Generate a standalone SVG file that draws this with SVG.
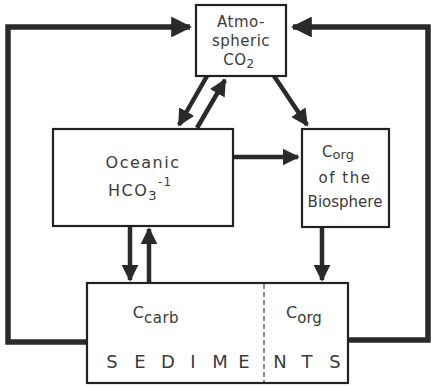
<svg xmlns="http://www.w3.org/2000/svg" width="431" height="386" viewBox="0 0 431 386">
<style>
.box{fill:#fff;stroke:#222;stroke-width:2.2}
.c{fill:none;stroke:#2a2a2a;stroke-width:4.5}
.loop{fill:none;stroke:#2a2a2a;stroke-width:5.5;stroke-linejoin:miter}
.t{font-family:"DejaVu Sans",sans-serif;fill:#3a3a3a;text-anchor:middle;font-size:15px}
.div{stroke:#444;stroke-width:1.2;stroke-dasharray:5,3}
</style>
<defs>
<marker id="ah" viewBox="0 0 10 10" refX="9" refY="5" markerWidth="3.8" markerHeight="3.8" orient="auto" markerUnits="strokeWidth">
<path d="M0,0 L10,5 L0,10 z" fill="#2a2a2a"/>
</marker>
</defs>
<g id="connectors">
<path class="loop" d="M90,342 H8 V27 H190" marker-end="url(#ah)"/>
<path class="loop" d="M346,340 H428 V27 H293" marker-end="url(#ah)"/>
<line class="c" x1="207" y1="76" x2="179" y2="125" marker-end="url(#ah)"/>
<line class="c" x1="197" y1="128" x2="225" y2="80" marker-end="url(#ah)"/>
<line class="c" x1="274" y1="76" x2="307" y2="125" marker-end="url(#ah)"/>
<line class="c" x1="233" y1="157" x2="298" y2="157" marker-end="url(#ah)"/>
<line class="c" x1="130" y1="226" x2="130" y2="280" marker-end="url(#ah)"/>
<line class="c" x1="149" y1="283" x2="149" y2="229" marker-end="url(#ah)"/>
<line class="c" x1="322" y1="227" x2="322" y2="280" marker-end="url(#ah)"/>
</g>
<g id="atmospheric">
<rect class="box" x="196" y="5" width="90" height="71"/>
<text class="t" x="241" y="27" letter-spacing="0.5">Atmo-</text>
<text class="t" x="241" y="46" letter-spacing="0.5">spheric</text>
<text class="t" x="239" y="65" letter-spacing="0.5">CO<tspan font-size="12" dy="3">2</tspan></text>
</g>
<g id="oceanic">
<rect class="box" x="53" y="129" width="180" height="97"/>
<text class="t" x="143" y="168" style="font-size:16px" letter-spacing="1.5">Oceanic</text>
<text class="t" x="140" y="196" style="font-size:16px" letter-spacing="1.5">HCO<tspan font-size="13" dy="4">3</tspan><tspan font-size="12" dy="-14" letter-spacing="1">-1</tspan></text>
</g>
<g id="corg-biosphere">
<rect class="box" x="302" y="129" width="87" height="98"/>
<text class="t" x="338" y="157">C<tspan font-size="13" dy="2">org</tspan></text>
<text class="t" x="345" y="183" letter-spacing="1.5">of the</text>
<text class="t" x="345" y="207">Biosphere</text>
</g>
<g id="sediments">
<rect class="box" x="87" y="283" width="261" height="100"/>
<line class="div" x1="264" y1="284" x2="264" y2="382"/>
<text class="t" x="156" y="318" style="font-size:16px">C<tspan font-size="15" dy="5" letter-spacing="0.5">carb</tspan></text>
<text class="t" x="304" y="318" style="font-size:16px">C<tspan font-size="15" dy="5">org</tspan></text>
<text class="t" style="font-size:18px" y="368" x="112 140 168 193 220 244 280 307 335">SEDIMENTS</text>
</g>
</svg>
